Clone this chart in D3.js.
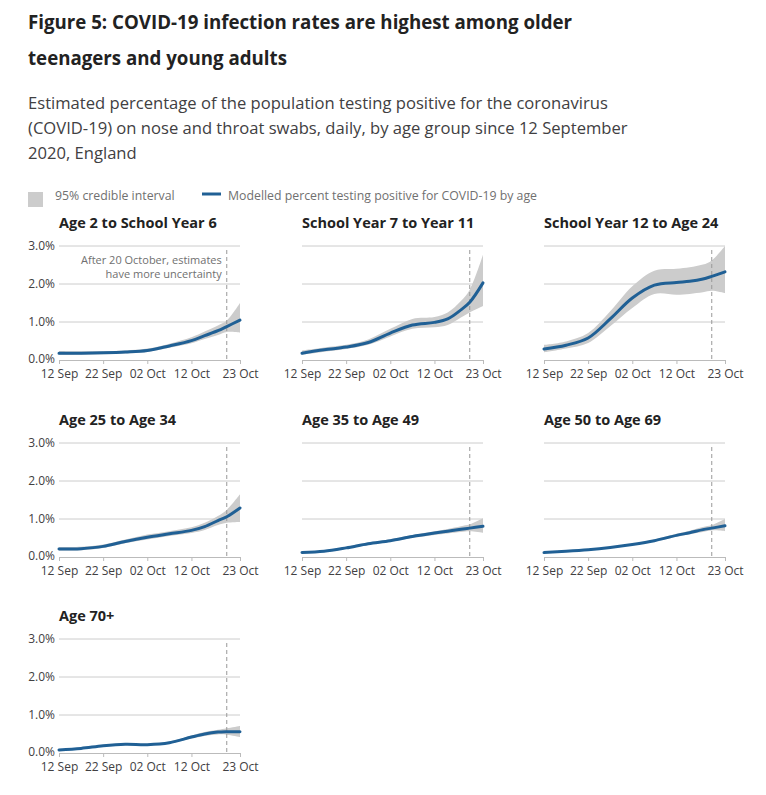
<!DOCTYPE html>
<html>
<head>
<meta charset="utf-8">
<script src="https://cdn.jsdelivr.net/npm/d3@7"></script>
<style>
  body { margin: 0; background: #fff; }
  svg { font-family: "Open Sans", sans-serif; }
</style>
</head>
<body>
<svg id="chart" width="766" height="795"></svg>
<script>
// ---- Data ----
const startDate = new Date(2020, 8, 12);
const dayOffsets = [0, 5, 10, 15, 20, 25, 30, 33, 36, 38, 41];
const tickLabels = ["12 Sep", "22 Sep", "02 Oct", "12 Oct", "23 Oct"];
const tickDays = [0, 10, 20, 30, 41];
const yTicks = [0, 1, 2, 3];
const cutoffDay = 38; // 20 October

const panelTitles = [
  "Age 2 to School Year 6",
  "School Year 7 to Year 11",
  "School Year 12 to Age 24",
  "Age 25 to Age 34",
  "Age 35 to Age 49",
  "Age 50 to Age 69",
  "Age 70+"
];

const ageY2toY6 = [0.18,0.18,0.19,0.21,0.25,0.37,0.51,0.64,0.77,0.88,1.05];
const ageY2toY6Low = [0.13,0.14,0.15,0.17,0.21,0.32,0.44,0.55,0.66,0.74,0.72];
const ageY2toY6High = [0.24,0.23,0.23,0.25,0.30,0.43,0.60,0.75,0.91,1.04,1.50];

const ageY7toY11 = [0.18,0.27,0.34,0.46,0.71,0.92,0.99,1.08,1.32,1.52,2.03];
const ageY7toY11Low = [0.14,0.22,0.29,0.40,0.62,0.82,0.86,0.92,1.12,1.25,1.42];
const ageY7toY11High = [0.25,0.33,0.40,0.54,0.82,1.08,1.13,1.25,1.55,1.85,2.77];

const ageY12to24 = [0.29,0.39,0.58,1.08,1.63,1.97,2.04,2.07,2.13,2.20,2.32];
const ageY12to24Low = [0.20,0.30,0.45,0.89,1.37,1.74,1.72,1.74,1.78,1.82,1.76];
const ageY12to24High = [0.40,0.49,0.71,1.28,1.94,2.35,2.40,2.44,2.51,2.62,3.00];

const age25to34 = [0.21,0.22,0.28,0.41,0.52,0.61,0.70,0.80,0.96,1.06,1.29];
const age25to34Low = [0.17,0.18,0.24,0.36,0.46,0.55,0.63,0.71,0.84,0.90,0.92];
const age25to34High = [0.26,0.27,0.33,0.46,0.59,0.68,0.78,0.90,1.08,1.24,1.65];

const age35to49 = [0.12,0.15,0.24,0.35,0.43,0.54,0.63,0.68,0.73,0.76,0.81];
const age35to49Low = [0.10,0.13,0.21,0.32,0.40,0.50,0.58,0.62,0.66,0.68,0.64];
const age35to49High = [0.14,0.17,0.27,0.38,0.47,0.58,0.68,0.74,0.81,0.86,1.02];

const age50to69 = [0.12,0.15,0.19,0.25,0.33,0.43,0.57,0.64,0.72,0.76,0.82];
const age50to69Low = [0.10,0.13,0.17,0.23,0.31,0.40,0.53,0.60,0.66,0.70,0.68];
const age50to69High = [0.14,0.17,0.21,0.27,0.35,0.46,0.61,0.69,0.79,0.84,1.00];

const age70plus = [0.08,0.12,0.19,0.23,0.22,0.27,0.42,0.50,0.55,0.56,0.56];
const age70plusLow = [0.06,0.10,0.17,0.21,0.20,0.25,0.38,0.45,0.49,0.48,0.42];
const age70plusHigh = [0.10,0.14,0.21,0.25,0.24,0.30,0.46,0.55,0.61,0.65,0.71];

const seriesMid = [ageY2toY6, ageY7toY11, ageY12to24, age25to34, age35to49, age50to69, age70plus];
const seriesLow = [ageY2toY6Low, ageY7toY11Low, ageY12to24Low, age25to34Low, age35to49Low, age50to69Low, age70plusLow];
const seriesHigh = [ageY2toY6High, ageY7toY11High, ageY12to24High, age25to34High, age35to49High, age50to69High, age70plusHigh];

// ---- Layout ----
const svg = d3.select("#chart");
const textDark = "#222222";
const textGrey = "#707070";
const blue = "#206095";

const dayToDate = d => d3.timeDay.offset(startDate, d);

// Title
const title = svg.append("text").attr("font-weight", 700).attr("font-size", 18.7).attr("fill", textDark);
title.append("tspan").attr("x", 28).attr("y", 29).text("Figure 5: COVID-19 infection rates are highest among older");
title.append("tspan").attr("x", 28).attr("y", 65).text("teenagers and young adults");

const sub = svg.append("text").attr("font-size", 16.6).attr("fill", "#414042");
["Estimated percentage of the population testing positive for the coronavirus",
 "(COVID-19) on nose and throat swabs, daily, by age group since 12 September",
 "2020, England"].forEach((t, i) => {
  sub.append("tspan").attr("x", 28).attr("y", 109 + i * 25).text(t);
});

// Legend
svg.append("rect").attr("x", 28).attr("y", 192).attr("width", 15).attr("height", 15).attr("fill", "#cccccc");
svg.append("text").attr("x", 55).attr("y", 200).attr("font-size", 12.3).attr("fill", textGrey).text("95% credible interval");
svg.append("line").attr("x1", 202).attr("x2", 221).attr("y1", 194).attr("y2", 194)
  .attr("stroke", blue).attr("stroke-width", 3);
svg.append("text").attr("x", 228).attr("y", 200).attr("font-size", 12.3).attr("fill", textGrey)
  .text("Modelled percent testing positive for COVID-19 by age");

const colX = [59, 302, 544];
const rowY = [246, 443, 639];
const pw = 181, ph = 114;

const x = d3.scaleTime().domain([dayToDate(0), dayToDate(41)]).range([0, pw]);
const y = d3.scaleLinear().domain([0, 3]).range([ph, 0]);
const curve = d3.curveCatmullRom.alpha(0.5);

panelTitles.forEach((pt, i) => {
  const col = i % 3, row = Math.floor(i / 3);
  const g = svg.append("g").attr("transform", `translate(${colX[col]},${rowY[row]})`);

  g.append("text").attr("x", 0).attr("y", -18).attr("font-size", 14.5).attr("font-weight", 700)
    .attr("fill", textDark).text(pt);

  // gridlines
  g.selectAll(".grid").data(yTicks.filter(v => v > 0)).enter().append("line")
    .attr("x1", 0).attr("x2", pw).attr("y1", d => y(d)).attr("y2", d => y(d))
    .attr("stroke", "#cccccc").attr("stroke-width", 1);

  if (col === 0) {
    g.selectAll(".ylab").data(yTicks).enter().append("text")
      .attr("x", -4).attr("y", d => y(d)).attr("dy", d => d === 0 ? "0.25em" : "0.35em")
      .attr("text-anchor", "end").attr("font-size", 12).attr("fill", "#414042")
      .text(d => d.toFixed(1) + "%");
  }

  const mid = seriesMid[i], lo = seriesLow[i], hi = seriesHigh[i];
  const pts = dayOffsets.map((d, k) => ({ date: dayToDate(d), v: mid[k], lo: lo[k], hi: hi[k] }));

  g.append("path").datum(pts)
    .attr("fill", "#cccccc")
    .attr("d", d3.area().curve(curve)
      .x(d => x(d.date)).y0(d => y(d.lo)).y1(d => y(d.hi)));

  // cutoff dashed line
  g.append("line").attr("x1", x(dayToDate(cutoffDay))).attr("x2", x(dayToDate(cutoffDay)))
    .attr("y1", 4).attr("y2", ph).attr("stroke", "#999999").attr("stroke-dasharray", "4,3").attr("stroke-width", 1);

  g.append("path").datum(pts)
    .attr("fill", "none").attr("stroke", blue).attr("stroke-width", 3).attr("stroke-linecap", "round")
    .attr("d", d3.line().curve(curve).x(d => x(d.date)).y(d => y(d.v)));

  // x-axis
  const xAxis = d3.axisBottom(x).tickValues(tickDays.map(dayToDate))
    .tickFormat((d, k) => tickLabels[k]).tickSize(4).tickSizeOuter(0);
  const ax = g.append("g").attr("transform", `translate(0,${ph})`).call(xAxis);
  ax.select(".domain").attr("stroke", "#bbbbbb");
  ax.selectAll(".tick line").attr("stroke", "#bbbbbb");
  ax.selectAll(".tick text").attr("font-size", 12).attr("fill", "#414042")
    .attr("font-family", "'Open Sans', sans-serif").attr("dy", "0.95em");

  if (i === 0) {
    const ann = g.append("text").attr("text-anchor", "end").attr("font-size", 11).attr("fill", textGrey);
    ann.append("tspan").attr("x", x(dayToDate(cutoffDay)) - 5).attr("y", 18).text("After 20 October, estimates");
    ann.append("tspan").attr("x", x(dayToDate(cutoffDay)) - 5).attr("y", 32).text("have more uncertainty");
  }
});
</script>
</body>
</html>
